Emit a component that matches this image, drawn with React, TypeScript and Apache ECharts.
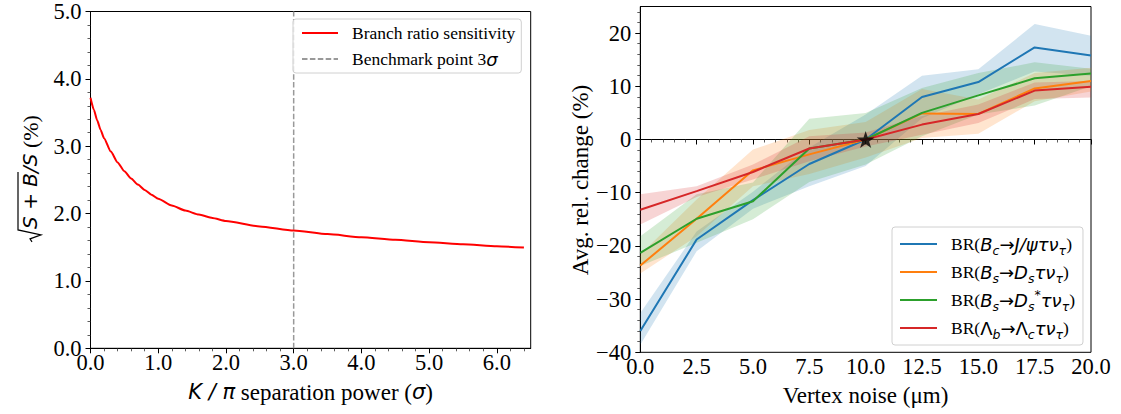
import React, { useEffect, useRef } from "react";
import * as echarts from "echarts";

// ---------- Left panel data ----------
const SEP_X = [0, 0.05, 0.1, 0.15, 0.2, 0.3, 0.4, 0.5, 0.6, 0.7, 0.8, 0.9, 1.0, 1.2, 1.4, 1.6, 1.8, 2.0, 2.5, 3.0, 3.5, 4.0, 4.5, 5.0, 5.5, 6.0, 6.4];
const SEP_Y = [3.72, 3.54, 3.38, 3.24, 3.12, 2.92, 2.76, 2.63, 2.52, 2.43, 2.35, 2.28, 2.22, 2.12, 2.045, 1.985, 1.935, 1.89, 1.81, 1.75, 1.695, 1.65, 1.61, 1.575, 1.545, 1.515, 1.495];
const BENCH_SIGMA = 3;
const LEFT_Y_MAX = 5;
const LEFT_X_MAJOR = [0, 1, 2, 3, 4, 5, 6];
const LEFT_X_MINOR = [0.2, 0.4, 0.6, 0.8, 1.2, 1.4, 1.6, 1.8, 2.2, 2.4, 2.6, 2.8, 3.2, 3.4, 3.6, 3.8, 4.2, 4.4, 4.6, 4.8, 5.2, 5.4, 5.6, 5.8, 6.2, 6.4];

// ---------- Right panel data ----------
const NOISE = [0, 2.5, 5, 7.5, 10, 12.5, 15, 17.5, 20];
const BC_MEAN = [-36.0, -18.8, -11.4, -4.6, 0, 8.0, 10.8, 17.3, 15.8];
const BC_LO = [-38.6, -21.0, -13.0, -8.8, -5.0, 4.0, 8.5, 12.8, 12.0];
const BC_HI = [-32.6, -17.3, -9.8, -1.5, 4.7, 12.0, 13.2, 21.7, 19.5];
const DS_MEAN = [-23.7, -14.9, -5.8, -2.8, 0, 4.9, 4.8, 9.6, 11.0];
const DS_LO = [-25.2, -18.2, -8.8, -6.5, -3.4, 0.3, 1.1, 7.2, 9.0];
const DS_HI = [-21.6, -11.3, -1.9, 1.8, 3.3, 9.5, 7.5, 12.5, 13.5];
const DSS_MEAN = [-21.3, -14.9, -11.6, -1.7, 0, 5.0, 8.3, 11.5, 12.4];
const DSS_LO = [-23.8, -19.4, -15.0, -8.0, -4.7, 0.6, 4.7, 6.4, 10.0];
const DSS_HI = [-18.2, -10.3, -8.1, 3.9, 5.0, 9.7, 12.5, 14.5, 13.3];
const LB_MEAN = [-13.2, -9.7, -6.1, -1.7, 0, 2.8, 4.8, 9.2, 9.9];
const LB_LO = [-16.0, -10.8, -7.5, -4.1, -1.3, 0.9, 3.1, 7.6, 7.9];
const LB_HI = [-10.3, -8.8, -4.7, 0.6, 1.3, 4.4, 6.6, 10.7, 11.0];
const STAR_POINT = [10, 0];
const RIGHT_Y_MAJOR = [-40, -30, -20, -10, 0, 10, 20];
const RIGHT_Y_MINOR = [-38, -36, -34, -32, -28, -26, -24, -22, -18, -16, -14, -12, -8, -6, -4, -2, 2, 4, 6, 8, 12, 14, 16, 18, 22, 24];

const NAMES = [
  "BR(Bc→J/ψτντ)",
  "BR(Bs→Dsτντ)",
  "BR(Bs→Ds*τντ)",
  "BR(Λb→Λcτντ)",
];
const RICH_LABELS = [
  "{r|BR(}{m|B}{s|c}{a|→}{m|J/ψτν}{s|τ}{r|)}",
  "{r|BR(}{m|B}{s|s}{a|→}{m|D}{s|s}{m|τν}{s|τ}{r|)}",
  "{r|BR(}{m|B}{s|s}{a|→}{m|D}{s|s}{p|*}{m|τν}{s|τ}{r|)}",
  "{r|BR(}{u|Λ}{s|b}{a|→}{u|Λ}{s|c}{m|τν}{s|τ}{r|)}",
];
const COLORS = ["#1f77b4", "#ff7f0e", "#2ca02c", "#d62728"];
const MEANS = [BC_MEAN, DS_MEAN, DSS_MEAN, LB_MEAN];
const LOWS = [BC_LO, DS_LO, DSS_LO, LB_LO];
const HIGHS = [BC_HI, DS_HI, DSS_HI, LB_HI];

const SERIF = "'Liberation Serif', 'Times New Roman', serif";
const SANS = "'DejaVu Sans', sans-serif";

const STAR = "path://M50,0L61.23,34.55L97.55,34.55L68.17,55.9L79.39,90.45L50,69.1L20.61,90.45L31.83,55.9L2.45,34.55L38.77,34.55Z";

const fmtMinus = (v: number) => (v < 0 ? "\u2212" + Math.abs(v) : String(v));

function measure(text: string, font: string): number {
  const c = document.createElement("canvas").getContext("2d");
  if (!c) return text.length * 10;
  c.font = font;
  return c.measureText(text).width;
}

function buildSqrtLabel(cx: number, cy: number) {
  const fs = 20;
  const parts = [
    { t: "S + B", font: `italic ${fs}px 'DejaVu Sans'`, fam: SANS, italic: true, size: fs },
    { t: "/S", font: `italic ${fs}px 'DejaVu Sans'`, fam: SANS, italic: true, size: fs },
    { t: " (%)", font: `22px 'Liberation Serif'`, fam: SERIF, italic: false, size: 22 },
  ];
  const widths = parts.map((p) => measure(p.t, p.font));
  const radW = 14;
  const total = radW + widths.reduce((a, b) => a + b, 0);
  let x = -total / 2;
  const children: any[] = [];
  const x0 = x;
  x += radW;
  const overEnd = x + widths[0] + 1;
  children.push({
    type: "polyline",
    shape: {
      points: [
        [x0 + 1, 2],
        [x0 + 4, 0],
        [x0 + 8, 11],
        [x0 + 13, -12],
        [overEnd, -12],
      ],
    },
    style: { stroke: "#000", lineWidth: 1.2, fill: "none" },
  });
  parts.forEach((p, i) => {
    children.push({
      type: "text",
      x,
      y: 0,
      style: {
        text: p.t,
        fontFamily: p.fam,
        fontStyle: p.italic ? "italic" : "normal",
        fontSize: p.size,
        fill: "#000",
        align: "left",
        verticalAlign: "middle",
      },
    });
    x += widths[i];
  });
  return { type: "group", x: cx, y: cy, rotation: Math.PI / 2, children };
}

export default function App() {
  const ref = useRef<HTMLDivElement>(null);
  useEffect(() => {
    const chart = echarts.init(ref.current!, null, { renderer: "svg" });
    const richLegend: any = {
      r: { fontFamily: SERIF, fontSize: 17.5, lineHeight: 22, color: "#000" },
      m: { fontFamily: SANS, fontStyle: "italic", fontSize: 18, lineHeight: 22, color: "#000" },
      u: { fontFamily: SANS, fontSize: 18, lineHeight: 22, color: "#000" },
      a: { fontFamily: SANS, fontSize: 18, lineHeight: 22, color: "#000" },
      s: { fontFamily: SANS, fontStyle: "italic", fontSize: 12.5, lineHeight: 12, padding: [13, 0, 0, 0], color: "#000" },
      p: { fontFamily: SANS, fontSize: 12.5, lineHeight: 12, padding: [0, 0, 11, 0], color: "#000" },
    };
    const tickStyle = { color: "#000", width: 1 };
    const minorStyle = { color: "#333", width: 0.8 };
    const labelBase = { color: "#000", fontFamily: SERIF, fontSize: 22.5 };

    const series: any[] = [
      {
        name: "Branch ratio sensitivity",
        type: "line",
        xAxisIndex: 0,
        yAxisIndex: 0,
        data: SEP_X.map((x, i) => [x, SEP_Y[i]]),
        symbol: "none",
        smooth: 0.2,
        smoothMonotone: "x",
        lineStyle: { color: "#ff0000", width: 2 },
        itemStyle: { color: "#ff0000" },
        z: 3,
      },
      {
        name: "Benchmark point 3σ",
        type: "line",
        xAxisIndex: 0,
        yAxisIndex: 0,
        data: [[BENCH_SIGMA, 0], [BENCH_SIGMA, LEFT_Y_MAX]],
        symbol: "none",
        lineStyle: { color: "#999999", width: 1.5, type: [5.5, 2.4] },
        itemStyle: { color: "#999999" },
        z: 2,
      },
    ];
    MEANS.forEach((mean, k) => {
      series.push({
        name: NAMES[k],
        type: "line",
        xAxisIndex: 2,
        yAxisIndex: 1,
        data: NOISE.map((x, i) => [x, mean[i]]),
        symbol: "none",
        lineStyle: { color: COLORS[k], width: 2 },
        itemStyle: { color: COLORS[k] },
        z: 3,
      });
      series.push({
        name: "band-" + k,
        type: "custom",
        xAxisIndex: 2,
        yAxisIndex: 1,
        data: NOISE.map((x, i) => [x, LOWS[k][i], HIGHS[k][i]]),
        encode: { x: 0, y: [1, 2] },
        silent: true,
        z: 3,
        renderItem: (params: any, api: any) => {
          if (params.dataIndex !== 0) return null;
          const upper = NOISE.map((x, i) => api.coord([x, HIGHS[k][i]]));
          const lower = NOISE.map((x, i) => api.coord([x, LOWS[k][i]])).reverse();
          return {
            type: "polygon",
            shape: { points: upper.concat(lower) },
            style: { fill: COLORS[k], opacity: 0.2, stroke: "none" },
          };
        },
      });
    });
    series.push({
      name: "benchmark",
      type: "scatter",
      xAxisIndex: 2,
      yAxisIndex: 1,
      data: [STAR_POINT],
      symbol: STAR,
      symbolSize: [18, 17],
      itemStyle: { color: "#000" },
      z: 10,
    });

    const option: any = {
      animation: false,
      backgroundColor: "#fff",
      textStyle: { fontFamily: SERIF },
      grid: [
        { left: 90.5, top: 10.3, width: 440.2, height: 338, show: true, borderColor: "#000", borderWidth: 1, backgroundColor: "transparent" },
        { left: 640.3, top: 6.5, width: 450.7, height: 345.8, show: true, borderColor: "#000", borderWidth: 1, backgroundColor: "transparent" },
      ],
      xAxis: [
        {
          type: "value", gridIndex: 0, min: 0, max: 6.5, position: "bottom",
          axisLine: { lineStyle: { color: "#000", width: 1 } },
          axisTick: { show: true, length: 5, lineStyle: tickStyle, customValues: LEFT_X_MAJOR },
          axisLabel: { ...labelBase, lineHeight: 12, margin: 8, customValues: LEFT_X_MAJOR, formatter: (v: number) => v.toFixed(1) },
          splitLine: { show: false },
        },
        {
          type: "value", gridIndex: 0, min: 0, max: 6.5, position: "bottom",
          axisLine: { show: false },
          axisTick: { show: true, length: 3, lineStyle: minorStyle, customValues: LEFT_X_MINOR },
          axisLabel: { show: false },
          splitLine: { show: false },
        },
        {
          type: "value", gridIndex: 1, min: 0, max: 20, interval: 2.5, position: "bottom",
          axisLine: { lineStyle: { color: "#000", width: 1 } },
          axisTick: { show: true, length: 5, lineStyle: tickStyle },
          minorTick: { show: true, splitNumber: 5, length: 3, lineStyle: minorStyle },
          axisLabel: { ...labelBase, lineHeight: 12, margin: 8, formatter: (v: number) => v.toFixed(1) },
          splitLine: { show: false },
        },
      ],
      yAxis: [
        {
          type: "value", gridIndex: 0, min: 0, max: LEFT_Y_MAX, interval: 1, position: "left",
          axisLine: { show: true, lineStyle: { color: "#000", width: 1 } },
          axisTick: { show: true, length: 5, lineStyle: tickStyle },
          minorTick: { show: true, splitNumber: 5, length: 3, lineStyle: minorStyle },
          axisLabel: { ...labelBase, lineHeight: 14, margin: 9, formatter: (v: number) => v.toFixed(1) },
          splitLine: { show: false },
        },
        {
          type: "value", gridIndex: 1, min: -40, max: 25, position: "left",
          axisLine: { show: true, lineStyle: { color: "#000", width: 1 } },
          axisTick: { show: true, length: 5, lineStyle: tickStyle, customValues: RIGHT_Y_MAJOR },
          axisLabel: { ...labelBase, lineHeight: 14, margin: 9, customValues: RIGHT_Y_MAJOR, formatter: fmtMinus },
          splitLine: { show: false },
        },
        {
          type: "value", gridIndex: 1, min: -40, max: 25, position: "left",
          axisLine: { show: false },
          axisTick: { show: true, length: 3, lineStyle: minorStyle, customValues: RIGHT_Y_MINOR },
          axisLabel: { show: false },
          splitLine: { show: false },
        },
      ],
      legend: [
        {
          data: ["Branch ratio sensitivity", "Benchmark point 3σ"],
          orient: "vertical",
          left: 293,
          top: 19,
          itemWidth: 36,
          itemHeight: 14,
          itemGap: 8,
          padding: [5, 6, 5, 8],
          borderColor: "#d0d0d0",
          borderWidth: 1,
          borderRadius: 3,
          backgroundColor: "rgba(255,255,255,0.8)",
          selectedMode: false,
          itemStyle: { opacity: 0 },
          textStyle: { color: "#000", fontFamily: SERIF, fontSize: 17.5, padding: [0, 0, 0, 9], rich: richLegend },
          formatter: (name: string) =>
            name === "Benchmark point 3σ" ? "{r|Benchmark point 3}{m|σ}" : "{r|" + name + "}",
        },
        {
          data: NAMES,
          orient: "vertical",
          left: 892,
          top: 227,
          itemWidth: 37,
          itemHeight: 14,
          itemGap: 2,
          padding: [4, 8, 4, 7],
          borderColor: "#d0d0d0",
          borderWidth: 1,
          borderRadius: 3,
          backgroundColor: "rgba(255,255,255,0.8)",
          selectedMode: false,
          itemStyle: { opacity: 0 },
          textStyle: { color: "#000", fontFamily: SERIF, fontSize: 17.5, padding: [0, 0, 0, 9], rich: richLegend },
          formatter: (name: string) => RICH_LABELS[NAMES.indexOf(name)],
        },
      ],
      graphic: [
        {
          type: "text",
          x: 310.6,
          y: 392,
          style: {
            text: "{m|K / π}{r| separation power (}{m|σ}{r|)}",
            align: "center",
            verticalAlign: "middle",
            rich: {
              m: { fontFamily: SANS, fontStyle: "italic", fontSize: 21, fill: "#000", lineHeight: 26 },
              r: { fontFamily: SERIF, fontSize: 23, fill: "#000", lineHeight: 26 },
            },
          },
        },
        {
          type: "text",
          x: 865.5,
          y: 395,
          style: { text: "Vertex noise (μm)", fontFamily: SERIF, fontSize: 23, fill: "#000", align: "center", verticalAlign: "middle" },
        },
        {
          type: "text",
          x: 580,
          y: 180,
          rotation: Math.PI / 2,
          style: { text: "Avg. rel. change (%)", fontFamily: SERIF, fontSize: 23, fill: "#000", align: "center", verticalAlign: "middle" },
        },
        buildSqrtLabel(30, 179),
      ],
      series,
    };
    chart.setOption(option);
    return () => chart.dispose();
  }, []);
  return (
    <div
      ref={ref}
      style={{ position: "absolute", left: 0, top: 0, width: 1121, height: 414, background: "#fff" }}
    />
  );
}
